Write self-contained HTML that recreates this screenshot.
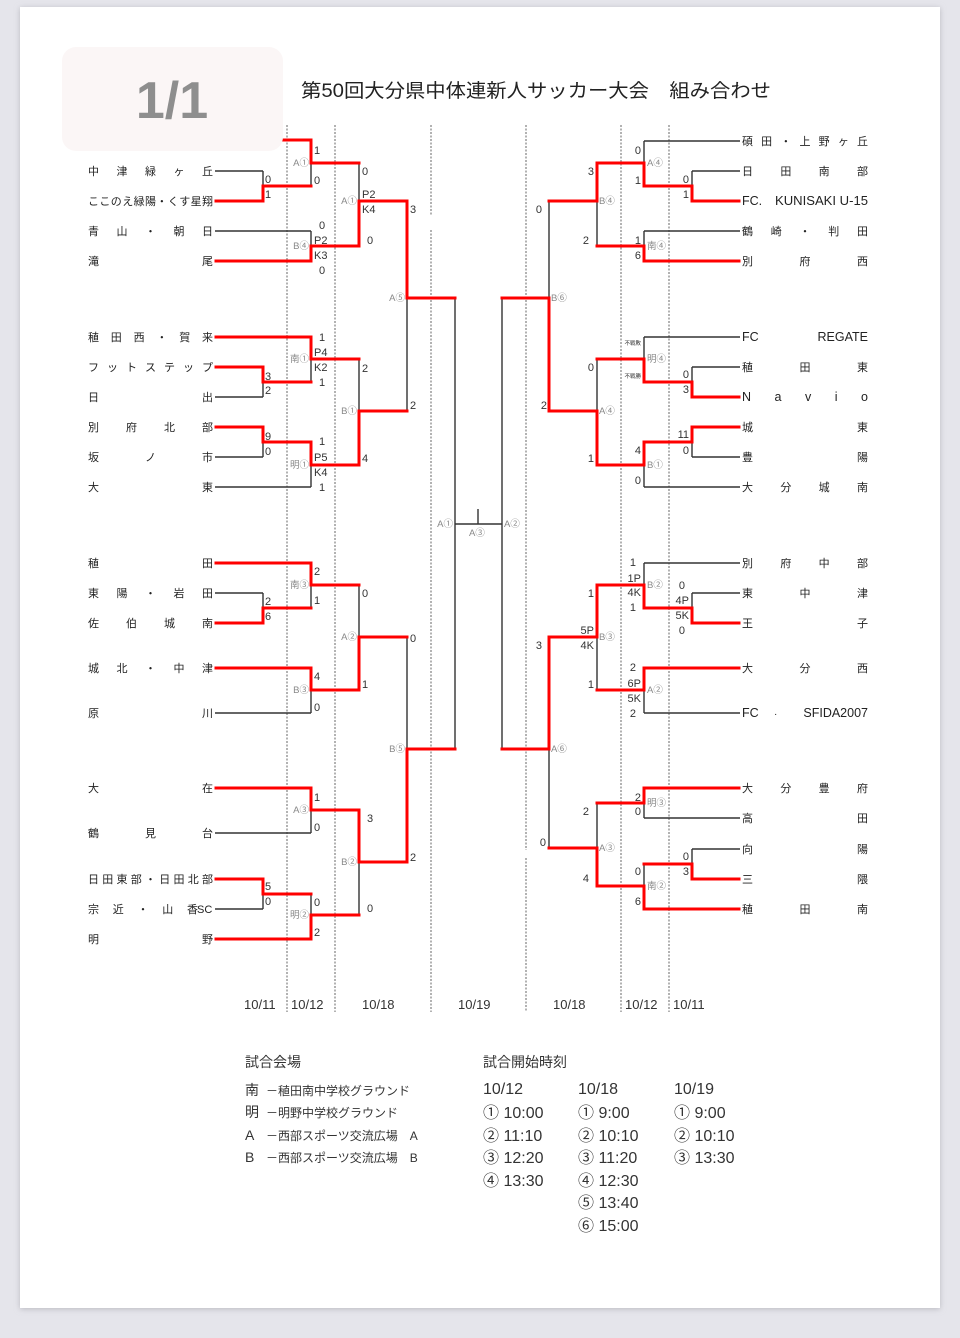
<!DOCTYPE html>
<html><head><meta charset="utf-8"><style>
html,body{margin:0;padding:0;background:#e5e5eb;}
svg{display:block}
text{font-family:"Liberation Sans","Noto Sans CJK JP",sans-serif;}
</style></head><body>
<svg width="960" height="1338" viewBox="0 0 960 1338" xmlns="http://www.w3.org/2000/svg">
<defs><filter id="sh" x="-5%" y="-5%" width="110%" height="110%"><feGaussianBlur stdDeviation="3"/></filter></defs>
<rect x="0" y="0" width="960" height="1338" fill="#e5e5eb"/>
<rect x="20" y="8" width="920" height="1301" fill="#b8b8c0" filter="url(#sh)"/>
<rect x="20" y="7" width="920" height="1301" fill="#fff"/>

<g stroke="#666" stroke-width="1" stroke-dasharray="2,1.5" fill="none">
<path d="M287 125V1012 M335 125V1012 M431 125V215 M431 230V1012 M526 125V850 M526 858V1012 M621 125V1012 M669 125V1012"/>
</g>

<g stroke="#333" stroke-width="1.4" fill="none">
<path d="M215 171H263 M215 231H311 M215 397H263 M215 457H263 M215 487H311 M215 593H263 M215 713H311 M215 833H311 M215 909H263"/>
<path d="M740 141H644 M740 171H692 M740 231H644 M740 337H644 M740 367H692 M740 457H692 M740 487H644 M740 563H644 M740 593H692 M740 713H644 M740 818H644 M740 849H692"/>
<path d="M263 171V201 M263 367V397 M263 427V457 M263 593V623 M263 879V909"/>
<path d="M311 140V186 M311 231V261 M311 337V382 M311 442V487 M311 563V608 M311 668V713 M311 788V833 M311 894V939"/>
<path d="M359 163V246 M359 359V465 M359 585V690 M359 810V915 M407 201V411 M407 637V862"/>
<path d="M455 298V749 M455 524H502 M478 524V509 M502 298V749"/>
<path d="M692 171V201 M692 367V397 M692 427V457 M692 593V623 M692 849V879"/>
<path d="M644 141V186 M644 231V261 M644 337V382 M644 442V487 M644 563V608 M644 668V713 M644 788V818 M644 864V909"/>
<path d="M597 163V246 M597 359V465 M597 585V690 M597 803V886 M549 201V411 M549 637V848"/>
</g>

<g stroke="#f00" stroke-width="3" fill="none" stroke-linejoin="miter" stroke-linecap="square">
<path d="M216 201H263 M283 140H311 M216 261H311 M216 337H311 M216 367H263 M216 427H263 M216 563H311 M216 623H263 M216 668H311 M216 788H311 M216 879H263 M216 939H311"/>
<path d="M263 201V186H311 M263 367V382H311 M263 427V442H311 M263 623V608H311 M263 879V894H311"/>
<path d="M311 140V163H359 M311 261V246H359 M311 337V359H359 M311 442V465H359 M311 563V585H359 M311 668V690H359 M311 788V810H359 M311 939V915H359"/>
<path d="M359 246V201H407 M359 465V411H407 M359 690V637H407 M359 810V862H407"/>
<path d="M407 201V298H455 M407 862V749H455"/>
<path d="M739 201H692 M739 261H644 M739 397H692 M739 427H692 M739 623H692 M739 668H644 M739 788H644 M739 879H692 M739 909H644"/>
<path d="M692 201V186H644 M692 397V382H644 M692 427V442H644 M692 623V608H644 M692 879V864H644"/>
<path d="M644 186V163H597 M644 261V246H597 M644 382V359H597 M644 442V465H597 M644 608V585H597 M644 668V690H597 M644 788V803H597 M644 909V886H597"/>
<path d="M597 163V201H549 M597 465V411H549 M597 585V637H549 M597 886V848H549"/>
<path d="M549 411V298H502 M549 637V749H502"/>
</g>

<g font-size="11" fill="#222">
<text x="88" y="175" textLength="125" lengthAdjust="spacing">中津緑ヶ丘</text>
<text x="88" y="205" textLength="125" lengthAdjust="spacing">ここのえ緑陽・くす星翔</text>
<text x="88" y="235" textLength="125" lengthAdjust="spacing">青山・朝日</text>
<text x="88" y="265" textLength="125" lengthAdjust="spacing">滝尾</text>
<text x="88" y="341" textLength="125" lengthAdjust="spacing">稙田西・賀来</text>
<text x="88" y="371" textLength="125" lengthAdjust="spacing">フットステップ</text>
<text x="88" y="401" textLength="125" lengthAdjust="spacing">日出</text>
<text x="88" y="431" textLength="125" lengthAdjust="spacing">別府北部</text>
<text x="88" y="461" textLength="125" lengthAdjust="spacing">坂ノ市</text>
<text x="88" y="491" textLength="125" lengthAdjust="spacing">大東</text>
<text x="88" y="567" textLength="125" lengthAdjust="spacing">稙田</text>
<text x="88" y="597" textLength="125" lengthAdjust="spacing">東陽・岩田</text>
<text x="88" y="627" textLength="125" lengthAdjust="spacing">佐伯城南</text>
<text x="88" y="672" textLength="125" lengthAdjust="spacing">城北・中津</text>
<text x="88" y="717" textLength="125" lengthAdjust="spacing">原川</text>
<text x="88" y="792" textLength="125" lengthAdjust="spacing">大在</text>
<text x="88" y="837" textLength="125" lengthAdjust="spacing">鶴見台</text>
<text x="88" y="883" textLength="125" lengthAdjust="spacing">日田東部・日田北部</text>
<text x="88" y="913" textLength="110" lengthAdjust="spacing">宗近・山香</text>
<text x="197" y="913">SC</text>
<text x="88" y="943" textLength="125" lengthAdjust="spacing">明野</text>
</g>

<g font-size="11" fill="#222">
<text x="742" y="145" textLength="126" lengthAdjust="spacing">碩田・上野ヶ丘</text>
<text x="742" y="175" textLength="126" lengthAdjust="spacing">日田南部</text>
<text x="742" y="205" font-size="12.5">FC.</text>
<text x="775" y="205" font-size="12.5" textLength="93" lengthAdjust="spacingAndGlyphs">KUNISAKI U-15</text>
<text x="742" y="235" textLength="126" lengthAdjust="spacing">鶴崎・判田</text>
<text x="742" y="265" textLength="126" lengthAdjust="spacing">別府西</text>
<text x="742" y="341" font-size="12.5">FC</text>
<text x="868" y="341" font-size="12.5" text-anchor="end">REGATE</text>
<text x="742" y="371" textLength="126" lengthAdjust="spacing">稙田東</text>
<text x="742" y="401" font-size="12.5" textLength="126" lengthAdjust="spacing">Navio</text>
<text x="742" y="431" textLength="126" lengthAdjust="spacing">城東</text>
<text x="742" y="461" textLength="126" lengthAdjust="spacing">豊陽</text>
<text x="742" y="491" textLength="126" lengthAdjust="spacing">大分城南</text>
<text x="742" y="567" textLength="126" lengthAdjust="spacing">別府中部</text>
<text x="742" y="597" textLength="126" lengthAdjust="spacing">東中津</text>
<text x="742" y="627" textLength="126" lengthAdjust="spacing">王子</text>
<text x="742" y="672" textLength="126" lengthAdjust="spacing">大分西</text>
<text x="742" y="717" font-size="12.5">FC</text>
<text x="774" y="717" font-size="10">·</text>
<text x="868" y="717" font-size="12.5" text-anchor="end">SFIDA2007</text>
<text x="742" y="792" textLength="126" lengthAdjust="spacing">大分豊府</text>
<text x="742" y="822" textLength="126" lengthAdjust="spacing">高田</text>
<text x="742" y="853" textLength="126" lengthAdjust="spacing">向陽</text>
<text x="742" y="883" textLength="126" lengthAdjust="spacing">三隈</text>
<text x="742" y="913" textLength="126" lengthAdjust="spacing">稙田南</text>
</g>

<g font-size="11" fill="#333">
<text x="265" y="183">0</text><text x="265" y="198">1</text>
<text x="265" y="380">3</text><text x="265" y="394">2</text>
<text x="265" y="440">9</text><text x="265" y="455">0</text>
<text x="265" y="605">2</text><text x="265" y="620">6</text>
<text x="265" y="890">5</text><text x="265" y="905">0</text>
<text x="314" y="154">1</text><text x="314" y="184">0</text>
<text x="319" y="229">0</text><text x="314" y="244">P2</text><text x="314" y="259">K3</text><text x="319" y="274">0</text>
<text x="319" y="341">1</text><text x="314" y="356">P4</text><text x="314" y="371">K2</text><text x="319" y="386">1</text>
<text x="319" y="445">1</text><text x="314" y="461">P5</text><text x="314" y="476">K4</text><text x="319" y="491">1</text>
<text x="314" y="575">2</text><text x="314" y="604">1</text>
<text x="314" y="680">4</text><text x="314" y="711">0</text>
<text x="314" y="801">1</text><text x="314" y="831">0</text>
<text x="314" y="906">0</text><text x="314" y="936">2</text>
<text x="362" y="175">0</text><text x="362" y="198">P2</text><text x="362" y="213">K4</text><text x="367" y="244">0</text>
<text x="362" y="372">2</text><text x="362" y="462">4</text>
<text x="362" y="597">0</text><text x="362" y="688">1</text>
<text x="367" y="822">3</text><text x="367" y="912">0</text>
<text x="410" y="213">3</text><text x="410" y="409">2</text>
<text x="410" y="642">0</text><text x="410" y="861">2</text>
</g>

<g font-size="11" fill="#333" text-anchor="end">
<text x="689" y="183">0</text><text x="689" y="198">1</text>
<text x="689" y="378">0</text><text x="689" y="393">3</text>
<text x="689" y="438">11</text><text x="689" y="454">0</text>
<text x="685" y="589">0</text><text x="689" y="604">4P</text><text x="689" y="619">5K</text><text x="685" y="634">0</text>
<text x="689" y="860">0</text><text x="689" y="875">3</text>
<text x="641" y="154">0</text><text x="641" y="184">1</text>
<text x="641" y="244">1</text><text x="641" y="259">6</text>
<text x="641" y="454">4</text><text x="641" y="484">0</text>
<text x="636" y="566">1</text><text x="641" y="582">1P</text><text x="641" y="596">4K</text><text x="636" y="611">1</text>
<text x="636" y="671">2</text><text x="641" y="687">6P</text><text x="641" y="702">5K</text><text x="636" y="717">2</text>
<text x="641" y="801">2</text><text x="641" y="815">0</text>
<text x="641" y="875">0</text><text x="641" y="905">6</text>
<text x="594" y="175">3</text><text x="589" y="244">2</text>
<text x="594" y="371">0</text><text x="594" y="462">1</text>
<text x="594" y="597">1</text><text x="594" y="634">5P</text><text x="594" y="649">4K</text><text x="594" y="688">1</text>
<text x="589" y="815">2</text><text x="589" y="882">4</text>
<text x="542" y="213">0</text><text x="547" y="409">2</text>
<text x="542" y="649">3</text><text x="546" y="846">0</text>
<text x="641" y="345" font-size="5.5">不戦敗</text>
<text x="641" y="378" font-size="5.5">不戦勝</text>
</g>

<g font-size="9.5" fill="#888" text-anchor="end">
<text x="309" y="166">A①</text><text x="309" y="249">B④</text><text x="309" y="362">南①</text><text x="309" y="468">明①</text>
<text x="309" y="588">南③</text><text x="309" y="693">B③</text><text x="309" y="813">A③</text><text x="309" y="918">明②</text>
<text x="357" y="204">A①</text><text x="357" y="414">B①</text><text x="357" y="640">A②</text><text x="357" y="865">B②</text>
<text x="405" y="301">A⑤</text><text x="405" y="752">B⑤</text>
<text x="453" y="527">A①</text>
</g>
<g font-size="9.5" fill="#888">
<text x="647" y="166">A④</text><text x="647" y="249">南④</text><text x="647" y="362">明④</text><text x="647" y="468">B①</text>
<text x="647" y="588">B②</text><text x="647" y="693">A②</text><text x="647" y="806">明③</text><text x="647" y="889">南②</text>
<text x="599" y="204">B④</text><text x="599" y="414">A④</text><text x="599" y="640">B③</text><text x="599" y="851">A③</text>
<text x="551" y="301">B⑥</text><text x="551" y="752">A⑥</text>
<text x="504" y="527">A②</text><text x="469" y="536">A③</text>
</g>

<rect x="62" y="47" width="221" height="104" rx="14" fill="#fbf6f6" opacity="0.97"/>
<text x="172" y="118" font-size="52" font-weight="bold" fill="#8e8e8e" text-anchor="middle">1/1</text>

<text x="301" y="97" font-size="19" fill="#222" textLength="470" lengthAdjust="spacingAndGlyphs">第50回大分県中体連新人サッカー大会　組み合わせ</text>

<g font-size="13" fill="#333">
<text x="244" y="1009">10/11</text><text x="291" y="1009">10/12</text><text x="362" y="1009">10/18</text>
<text x="458" y="1009">10/19</text><text x="553" y="1009">10/18</text><text x="625" y="1009">10/12</text><text x="673" y="1009">10/11</text>
</g>

<g font-size="13" fill="#333">
<text x="245" y="1067" font-size="14">試合会場</text>
<text x="245" y="1095" font-size="14">南</text><text x="266" y="1095" font-size="12">－稙田南中学校グラウンド</text>
<text x="245" y="1117" font-size="14">明</text><text x="266" y="1117" font-size="12">－明野中学校グラウンド</text>
<text x="245" y="1140" font-size="14">A</text><text x="266" y="1140" font-size="12">－西部スポーツ交流広場　A</text>
<text x="245" y="1162" font-size="14">B</text><text x="266" y="1162" font-size="12">－西部スポーツ交流広場　B</text>
<text x="483" y="1067" font-size="14">試合開始時刻</text>
</g>
<g font-size="16" fill="#333">
<text x="483" y="1094">10/12</text><text x="483" y="1118">① 10:00</text><text x="483" y="1141">② 11:10</text><text x="483" y="1163">③ 12:20</text><text x="483" y="1186">④ 13:30</text>
<text x="578" y="1094">10/18</text><text x="578" y="1118">① 9:00</text><text x="578" y="1141">② 10:10</text><text x="578" y="1163">③ 11:20</text><text x="578" y="1186">④ 12:30</text><text x="578" y="1208">⑤ 13:40</text><text x="578" y="1231">⑥ 15:00</text>
<text x="674" y="1094">10/19</text><text x="674" y="1118">① 9:00</text><text x="674" y="1141">② 10:10</text><text x="674" y="1163">③ 13:30</text>
</g>
</svg>
</body></html>
